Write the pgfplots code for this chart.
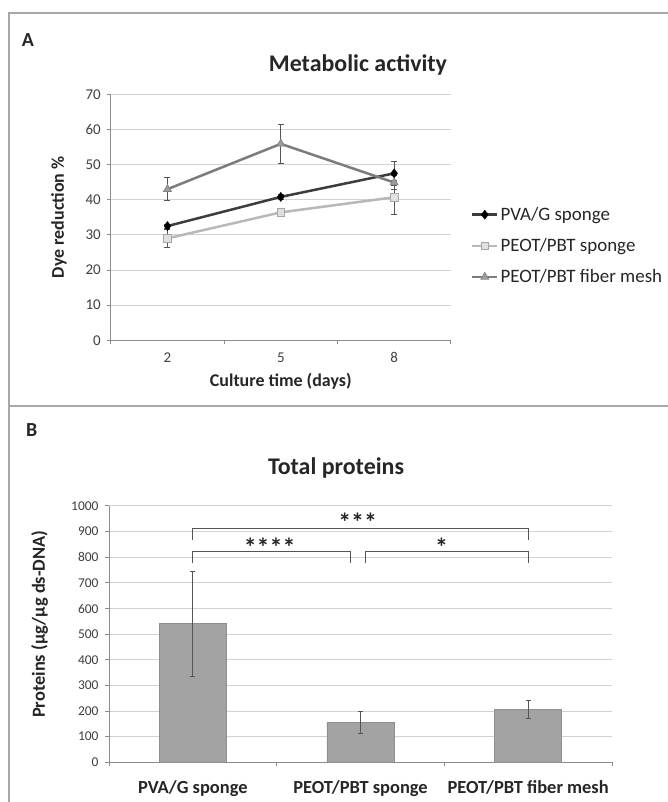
\documentclass[border=0pt]{standalone}
\usepackage{fontspec}
\setmainfont{Carlito}
\usepackage{pgfplots}
\pgfplotsset{compat=1.18}
\definecolor{framegray}{HTML}{A8A8A8}
\definecolor{gridgray}{HTML}{D2D2D2}
\definecolor{axgray}{HTML}{8C8C8C}
\definecolor{tickcol}{HTML}{404040}
\definecolor{labcol}{HTML}{262626}
\definecolor{pvacol}{HTML}{3C3C3C}
\definecolor{spgcol}{HTML}{B8B8B8}
\definecolor{fibcol}{HTML}{7C7C7C}
\definecolor{errcol}{HTML}{555555}
\definecolor{barfill}{HTML}{A3A3A3}
\definecolor{bardraw}{HTML}{8E8E8E}
\newcommand{\legf}{\fontsize{19}{23}\selectfont}
\pgfplotsset{
  common/.style={
    scale only axis, anchor=south west,
    xmin=-0.5, xmax=2.5, ymin=0,
    xtick={0,1,2}, minor xtick={-0.5,0.5,1.5,2.5},
    axis lines=left, axis line style={-, color=axgray, line width=1bp},
    tick align=outside, major tick length=0pt, minor tick length=3.8bp,
    minor tick style={color=axgray, line width=1bp},
    ymajorgrids, grid style={color=gridgray, line width=1bp},
    /pgf/number format/assume math mode=true,
    /pgf/number format/1000 sep={},
  },
  eb/.style={error bars/.cd, y dir=both, y explicit,
    error bar style={color=errcol, line width=0.9bp},
    error mark options={color=errcol, mark size=#1, line width=0.9bp, rotate=90}},
}
\begin{document}
\begin{tikzpicture}[x=1bp,y=1bp]
\useasboundingbox (0,0) rectangle (668,802);
\fill[white] (0,0) rectangle (668,802);
\draw[framegray, line width=2bp] (8.5,0) -- (8.5,789) -- (668,789);
\draw[framegray, line width=2bp] (8.5,396) -- (668,396);
\node[font=\bfseries\fontsize{20}{24}\selectfont, color=labcol, anchor=base] at (28,755.3) {A};
\node[font=\bfseries\fontsize{20}{24}\selectfont, color=labcol, anchor=base] at (31.8,365.3) {B};
\node[font=\bfseries\fontsize{24}{28}\selectfont, color=labcol, anchor=base] at (358,730.3) {Metabolic activity};
\node[font=\bfseries\fontsize{24}{28}\selectfont, color=labcol, anchor=base] at (336,327.7) {Total proteins};

\begin{axis}[common,
  at={(110.8bp,461.7bp)}, width=340bp, height=246bp,
  ymax=70, ytick={0,10,...,70}, minor ytick={0,10,...,70},
  xticklabels={2,5,8},
  yticklabel style={font=\fontsize{15}{18}\selectfont, color=tickcol, xshift=-6.5bp},
  xticklabel style={font=\fontsize{15}{18}\selectfont, color=tickcol, anchor=base, yshift=-22.7bp},
  xlabel={Culture time (days)},
  xlabel style={font=\bfseries\fontsize{18}{22}\selectfont, color=labcol, at={(axis description cs:0.5,0)}, anchor=base, yshift=-46bp},
  ylabel={Dye reduction \%},
  ylabel style={font=\bfseries\fontsize{18}{22}\selectfont, color=labcol, at={(axis description cs:0,0.5)}, anchor=base, yshift=47bp},
  legend style={draw=none, fill=none, at={(1.059,0.384)}, anchor=west, inner sep=0pt,
    text=labcol, row sep=12.5bp, nodes={inner sep=2bp}},
  legend cell align=left,
  legend image code/.code={\draw[mark repeat=2,mark phase=2] plot coordinates {(0bp,0bp) (12.5bp,0bp) (25bp,0bp)};},
]
\addplot[color=pvacol, line width=2.5bp, mark=diamond*, mark size=4.5bp,
  mark options={fill=black, draw=black, line width=0.5bp}, eb=3bp]
  coordinates {(0,32.5) +- (0,0.6) (1,40.8) +- (0,0.6) (2,47.5) +- (0,3.5)};
\addlegendentry{\legf PVA/G sponge}
\addplot[color=spgcol, line width=2.5bp, mark=square*, mark size=3.8bp,
  mark options={fill=white!88!black, draw=spgcol!90!black, line width=0.8bp}, eb=3bp]
  coordinates {(0,29.0) +- (0,2.6) (1,36.4) +- (0,0.6) (2,40.7) +- (0,4.8)};
\addlegendentry{\legf PEOT/PBT sponge}
\addplot[color=fibcol, line width=2.5bp, mark=triangle*, mark size=4.5bp,
  mark options={fill=white!62!black, draw=white!52!black, line width=0.8bp}, eb=3bp]
  coordinates {(0,43.0) +- (0,3.2) (1,55.9) +- (0,5.5) (2,44.9) +- (0,2.0)};
\addlegendentry{\legf PEOT/PBT fiber mesh}
\end{axis}

\begin{axis}[common,
  at={(109bp,39.7bp)}, width=503bp, height=256.3bp,
  ymax=1000, ytick={0,100,...,1000}, minor ytick={0,100,...,1000},
  xticklabels={PVA/G sponge, PEOT/PBT sponge, PEOT/PBT fiber mesh},
  yticklabel style={font=\fontsize{13.5}{16}\selectfont, color=tickcol, xshift=-7bp},
  xticklabel style={font=\bfseries\fontsize{18.5}{22}\selectfont, color=labcol, anchor=base, yshift=-31bp},
  ylabel={Proteins (µg/µg ds-DNA)},
  ylabel style={font=\bfseries\fontsize{18.5}{22}\selectfont, color=labcol, at={(axis description cs:0,0.539)}, anchor=base, yshift=64bp},
]
\addplot[ybar, bar width=0.4, fill=barfill, draw=bardraw, line width=0.8bp, eb=2.5bp]
  coordinates {(0,540) +- (0,205) (1,156) +- (0,42) (2,206) +- (0,34)};
\draw[errcol, line width=1.2bp] (axis cs:0,867) -- (axis cs:0,913) -- (axis cs:2,913) -- (axis cs:2,867);
\draw[errcol, line width=1.2bp] (axis cs:0,776) -- (axis cs:0,822) -- (axis cs:0.94,822) -- (axis cs:0.94,776);
\draw[errcol, line width=1.2bp] (axis cs:1.03,776) -- (axis cs:1.03,822) -- (axis cs:2,822) -- (axis cs:2,776);
\node[font=\bfseries\fontsize{26}{30}\selectfont, color=labcol, anchor=base] at (axis cs:0.983,900) {***};
\node[font=\bfseries\fontsize{26}{30}\selectfont, color=labcol, anchor=base] at (axis cs:0.458,803) {****};
\node[font=\bfseries\fontsize{26}{30}\selectfont, color=labcol, anchor=base] at (axis cs:1.483,803) {*};
\end{axis}
\end{tikzpicture}
\end{document}
